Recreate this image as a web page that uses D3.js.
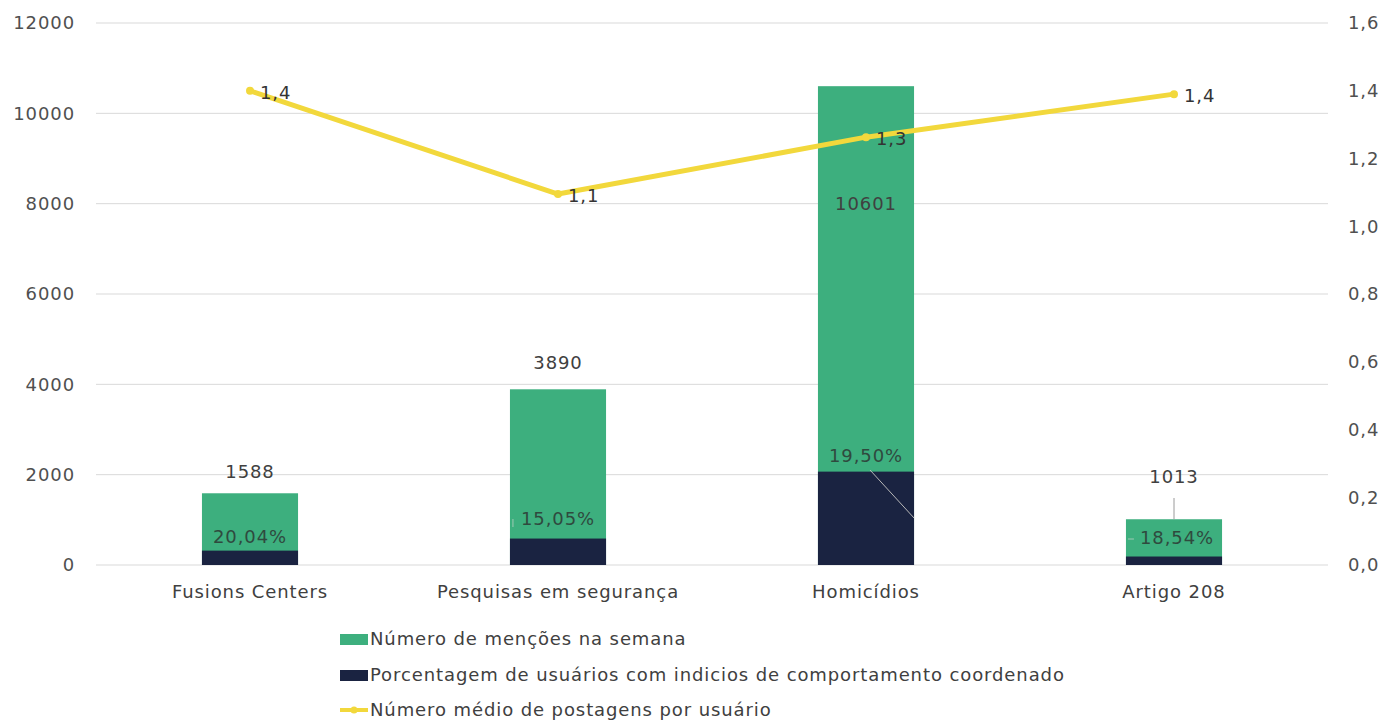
<!DOCTYPE html>
<html>
<head>
<meta charset="utf-8">
<script src="https://cdn.jsdelivr.net/npm/d3@7"></script>
<style>
  body { margin: 0; background: #fff; }
  svg text { font-family: "DejaVu Sans", sans-serif; fill: #404040; letter-spacing: 0.9px; }
</style>
</head>
<body>
<svg id="chart" width="1396" height="720"></svg>
<script>
var categories = ['Fusions Centers', 'Pesquisas em segurança', 'Homicídios', 'Artigo 208'];
var mentions = [1588, 3890, 10601, 1013];
var coordPct = [20.04, 15.05, 19.50, 18.54];
var avgPosts = [1.40, 1.095, 1.263, 1.39];
var avgLabels = ['1,4', '1,1', '1,3', '1,4'];
var leftTicks = [0, 2000, 4000, 6000, 8000, 10000, 12000];
var rightTicks = [0, 0.2, 0.4, 0.6, 0.8, 1.0, 1.2, 1.4, 1.6];
var legendNames = ['Número de menções na semana',
    'Porcentagem de usuários com indicios de comportamento coordenado',
    'Número médio de postagens por usuário'];

var green = '#3daf7e', navy = '#1a2341', yellow = '#f2d83c';

var svg = d3.select('#chart');

var x = d3.scaleBand().domain(categories).range([96, 1328])
    .paddingInner(0.688).paddingOuter(0.344);
var y = d3.scaleLinear().domain([0, 12000]).range([565, 23]);
var y2 = d3.scaleLinear().domain([0, 1.6]).range([565, 23]);

// grid
svg.append('g').selectAll('line').data(leftTicks).join('line')
    .attr('x1', 96).attr('x2', 1328)
    .attr('y1', function(d){ return y(d); }).attr('y2', function(d){ return y(d); })
    .attr('stroke', '#d9d9d9').attr('stroke-width', 1);

// left axis
var ax = svg.append('g').attr('transform', 'translate(75,0)')
    .call(d3.axisLeft(y).tickValues(leftTicks).tickSize(0).tickPadding(0).tickFormat(d3.format('d')));
ax.select('.domain').remove();
ax.selectAll('text').style('font-size', '18px').style('fill', '#505050');

// right axis
var fmt1 = function(d){ return d3.format('.1f')(d).replace('.', ','); };
var ax2 = svg.append('g').attr('transform', 'translate(1348,0)')
    .call(d3.axisRight(y2).tickValues(rightTicks).tickSize(0).tickPadding(0).tickFormat(fmt1));
ax2.select('.domain').remove();
ax2.selectAll('text').style('font-size', '18px').style('fill', '#505050');

// x labels
svg.append('g').selectAll('text').data(categories).join('text')
    .attr('x', function(d){ return x(d) + x.bandwidth()/2; })
    .attr('y', 598)
    .attr('text-anchor', 'middle')
    .style('font-size', '18px')
    .text(function(d){ return d; });

// bars
var bars = svg.append('g');
bars.selectAll('rect.m').data(categories).join('rect')
    .attr('class', 'm')
    .attr('x', function(d){ return x(d); })
    .attr('width', x.bandwidth())
    .attr('y', function(d, i){ return y(mentions[i]); })
    .attr('height', function(d, i){ return y(0) - y(mentions[i]); })
    .attr('fill', green);
bars.selectAll('rect.c').data(categories).join('rect')
    .attr('class', 'c')
    .attr('x', function(d){ return x(d); })
    .attr('width', x.bandwidth())
    .attr('y', function(d, i){ return y(mentions[i] * coordPct[i] / 100); })
    .attr('height', function(d, i){ return y(0) - y(mentions[i] * coordPct[i] / 100); })
    .attr('fill', navy);

// leader lines
var cx = function(i){ return x(categories[i]) + x.bandwidth()/2; };
svg.append('line').attr('x1', cx(2) + 4).attr('y1', 470).attr('x2', x(categories[2]) + x.bandwidth()).attr('y2', 518)
    .attr('stroke', '#b8b8b8').attr('stroke-width', 1);
svg.append('line').attr('x1', cx(3)).attr('y1', 498).attr('x2', cx(3)).attr('y2', y(mentions[3]))
    .attr('stroke', '#9a9a9a').attr('stroke-width', 1);
svg.append('line').attr('x1', x(categories[1]) + 3).attr('y1', 519).attr('x2', x(categories[1]) + 3).attr('y2', 527)
    .attr('stroke', '#9fc9b5').attr('stroke-width', 1);
svg.append('line').attr('x1', x(categories[3]) + 2).attr('y1', 539).attr('x2', x(categories[3]) + 8).attr('y2', 539)
    .attr('stroke', '#9fc9b5').attr('stroke-width', 1);

// mention labels
var mentionDy = [-15, -20, 0, -36];
svg.append('g').selectAll('text').data(mentions).join('text')
    .attr('x', function(d, i){ return cx(i); })
    .attr('y', function(d, i){
        return i === 2 ? y(8000) + 6 : y(d) + mentionDy[i];
    })
    .attr('text-anchor', 'middle')
    .style('font-size', '18px')
    .text(function(d){ return d; });

// pct labels
var pctY = [543, 525, 462, 544];
var pctX = [0, 0, 0, 3];
svg.append('g').selectAll('text').data(coordPct).join('text')
    .attr('x', function(d, i){ return cx(i) + pctX[i]; })
    .attr('y', function(d, i){ return pctY[i]; })
    .attr('text-anchor', 'middle')
    .style('font-size', '18px')
    .style('fill', '#2f4a3e')
    .text(function(d){ return d3.format('.2f')(d).replace('.', ',') + '%'; });

// line
var line = d3.line()
    .x(function(d, i){ return cx(i); })
    .y(function(d){ return y2(d); });
svg.append('path').datum(avgPosts)
    .attr('d', line)
    .attr('fill', 'none')
    .attr('stroke', yellow)
    .attr('stroke-width', 5)
    .attr('stroke-linejoin', 'round');
svg.append('g').selectAll('circle').data(avgPosts).join('circle')
    .attr('cx', function(d, i){ return cx(i); })
    .attr('cy', function(d){ return y2(d); })
    .attr('r', 4).attr('fill', yellow);
svg.append('g').selectAll('text').data(avgLabels).join('text')
    .attr('x', function(d, i){ return cx(i) + 10; })
    .attr('y', function(d, i){ return y2(avgPosts[i]) + 8; })
    .style('font-size', '18px')
    .style('fill', '#333')
    .text(function(d){ return d; });

// legend
var lg = svg.append('g').attr('transform', 'translate(340,0)');
var rowY = [639, 675, 710];
lg.append('rect').attr('x', 0).attr('y', rowY[0] - 5).attr('width', 28).attr('height', 11).attr('fill', green);
lg.append('rect').attr('x', 0).attr('y', rowY[1] - 5).attr('width', 28).attr('height', 11).attr('fill', navy);
lg.append('line').attr('x1', 0).attr('x2', 28).attr('y1', rowY[2]).attr('y2', rowY[2])
    .attr('stroke', yellow).attr('stroke-width', 4);
lg.append('circle').attr('cx', 14).attr('cy', rowY[2]).attr('r', 3.5).attr('fill', yellow);
lg.selectAll('text').data(legendNames).join('text')
    .attr('x', 30)
    .attr('y', function(d, i){ return rowY[i] + 6; })
    .style('font-size', '18px')
    .text(function(d){ return d; });
</script>
</body>
</html>
